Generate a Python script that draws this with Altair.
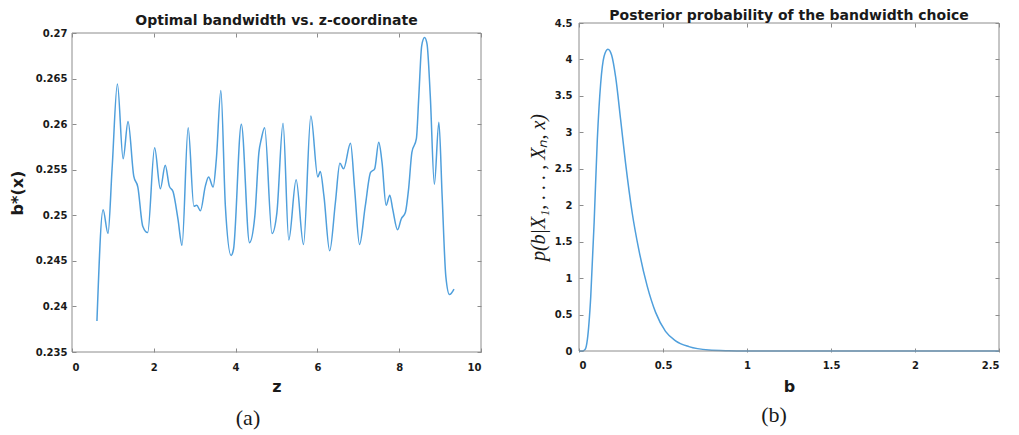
import altair as alt
import pandas as pd

# ---- data ----
z_coord = [0.61, 0.76, 0.88, 0.98, 1.11, 1.25, 1.37, 1.51, 1.61, 1.73, 1.85, 2.02, 2.16, 2.28,
           2.38, 2.47, 2.59, 2.69, 2.84, 2.98, 3.05, 3.14, 3.26, 3.34, 3.45, 3.53, 3.64, 3.75,
           3.89, 3.95, 4.14, 4.34, 4.47, 4.57, 4.63, 4.71, 4.89, 5.01, 5.16, 5.30, 5.48, 5.66,
           5.84, 6.01, 6.07, 6.16, 6.30, 6.44, 6.55, 6.64, 6.81, 6.91, 7.03, 7.17, 7.30, 7.40,
           7.50, 7.58, 7.68, 7.77, 7.84, 7.96, 8.05, 8.15, 8.23, 8.31, 8.42, 8.48, 8.55, 8.62,
           8.68, 8.76, 8.86, 8.97, 9.05, 9.14, 9.23, 9.34]
b_opt = [0.2384, 0.2506, 0.2480, 0.2551, 0.2644, 0.2562, 0.2603, 0.2543, 0.2531, 0.2488, 0.2481,
         0.2574, 0.2529, 0.2555, 0.2532, 0.2526, 0.2496, 0.2467, 0.2596, 0.2510, 0.2511, 0.2505,
         0.2532, 0.2542, 0.2531, 0.2562, 0.2637, 0.2510, 0.2456, 0.2463, 0.2600, 0.2470, 0.2499,
         0.2569, 0.2584, 0.2596, 0.2480, 0.2503, 0.2601, 0.2473, 0.2539, 0.2468, 0.2609, 0.2542,
         0.2548, 0.2521, 0.2461, 0.2514, 0.2557, 0.2551, 0.2579, 0.2529, 0.2468, 0.2510, 0.2547,
         0.2551, 0.2580, 0.2558, 0.2511, 0.2522, 0.2507, 0.2484, 0.2496, 0.2503, 0.2529, 0.2569,
         0.2584, 0.2631, 0.2686, 0.2695, 0.2688, 0.2631, 0.2534, 0.2602, 0.2521, 0.2433, 0.2413,
         0.2419]

bw = [0.0, 0.02, 0.036, 0.05, 0.07, 0.09, 0.109, 0.129, 0.149, 0.172, 0.194, 0.218, 0.248,
      0.277, 0.317, 0.356, 0.406, 0.456, 0.515, 0.575, 0.654, 0.772, 0.89, 1.0, 1.2, 1.5, 2.0, 2.5]
posterior = [0.0, 0.0, 0.02, 0.16, 0.75, 1.76, 2.90, 3.67, 4.04, 4.14, 4.06, 3.76, 3.17,
             2.58, 1.89, 1.39, 0.89, 0.53, 0.27, 0.14, 0.06, 0.014, 0.004, 0.001, 0.0, 0.0, 0.0, 0.0]

left_xdomain = [0, 10]
left_ydomain = [0.235, 0.27]
right_xdomain = [0, 2.5]
right_ydomain = [0, 4.5]
left_xticks = [0, 2, 4, 6, 8, 10]
left_yticks = [0.235, 0.24, 0.245, 0.25, 0.255, 0.26, 0.265, 0.27]
right_xticks = [0, 0.5, 1, 1.5, 2, 2.5]
right_yticks = [0, 0.5, 1, 1.5, 2, 2.5, 3, 3.5, 4, 4.5]

title_left = "Optimal bandwidth vs. z-coordinate"
title_right = "Posterior probability of the bandwidth choice"
xlabel_left = "z"
ylabel_left = "b*(x)"
xlabel_right = "b"
ylabel_right = "p(b|X\u2081, . . . , X\u2099, x)"
caption_left = ["(a)"]
caption_right = ["(b)"]

LINE = "#4f9fdc"
FRAME = "#8c8c8c"
TXT = "#1a1a1a"
SANS = "DejaVu Sans"
SERIF = "Liberation Serif"

H = 329          # common view height (frames top-aligned by the concat)
LEFT_TOP = 10    # left frame starts this far below the common top
W_L, W_R = 409, 420


def ax(orient, values, show_labels=True, offset=-4, **kw):
    return alt.Axis(orient=orient, values=values, labels=show_labels, domain=False,
                    ticks=True, tickSize=4, offset=offset, tickColor=FRAME, tickWidth=1,
                    grid=False, labelFont=SANS, labelFontSize=10, labelFontWeight="bold",
                    labelColor=TXT, format=".4~r", **kw)


def panel(xd, yd, xfield, yfield, xdom, ydom, xticks, yticks, yrange, xlab, ylab,
          xlab_pad, ylab_pad, ytitle_x, ytitle_style, cap, cap_x, cap_y, top_offset):
    df = pd.DataFrame({xfield: xd, yfield: yd})
    xs = alt.Scale(domain=xdom, nice=False, zero=False)
    ys = alt.Scale(domain=ydom, range=yrange, nice=False, zero=False)
    line = alt.Chart(df).mark_line(color=LINE, strokeWidth=1.5, interpolate="monotone").encode(
        x=alt.X(f"{xfield}:Q", scale=xs,
                axis=ax("bottom", xticks, title=xlab, labelPadding=xlab_pad, titleY=38,
                        titleBaseline="middle", titleFont=SANS, titleFontSize=16,
                        titleFontWeight="bold", titleColor=TXT)),
        y=alt.Y(f"{yfield}:Q", scale=ys,
                axis=ax("left", yticks, title=ylab, labelPadding=ylab_pad, titleX=ytitle_x,
                        titleBaseline="middle", titleColor=TXT, **ytitle_style)),
    )
    fdf = pd.DataFrame({"x0": [xdom[0]], "x1": [xdom[1]], "y0": [ydom[0]], "y1": [ydom[1]]})
    frame = alt.Chart(fdf).mark_rect(fill="white", fillOpacity=0, stroke=FRAME,
                                     strokeWidth=1, strokeOpacity=1).encode(
        x=alt.X("x0:Q", scale=xs, axis=ax("top", xticks, False, offset=-4 - top_offset,
                                           title=None)),
        x2="x1:Q",
        y=alt.Y("y0:Q", scale=ys, axis=ax("right", yticks, False, title=None)),
        y2="y1:Q",
    )
    capc = alt.Chart(pd.DataFrame({"t": cap})).mark_text(
        font=SERIF, fontSize=22, color=TXT, baseline="middle", align="center"
    ).encode(text="t:N", x=alt.value(cap_x), y=alt.value(cap_y))
    return alt.layer(line, frame, capc).resolve_axis(x="independent", y="independent")


left = panel(
    z_coord, b_opt, "z", "b", left_xdomain, left_ydomain, left_xticks, left_yticks,
    [H, LEFT_TOP], xlabel_left, ylabel_left, 10, 5, -59,
    dict(titleFont=SANS, titleFontSize=16, titleFontWeight="bold"),
    caption_left, 176, 395, LEFT_TOP,
).properties(
    width=W_L, height=H,
    title=alt.TitleParams(text=title_left, font=SANS, fontSize=14, fontWeight="bold",
                          color=TXT, offset=-5, anchor="middle"),
)
right = panel(
    bw, posterior, "bw", "p", right_xdomain, right_ydomain, right_xticks, right_yticks,
    [H - 1, 0], xlabel_right, ylabel_right, 8, 7, -45,
    dict(titleFont=SERIF, titleFontSize=20, titleFontStyle="italic", titleFontWeight="normal"),
    caption_right, 195, 392, 0,
).properties(
    width=W_R, height=H,
    title=alt.TitleParams(text=title_right, font=SANS, fontSize=14, fontWeight="bold",
                          color=TXT, offset=-5, anchor="middle"),
)

chart = alt.hconcat(left, right, spacing=45).properties(padding=0, background="white").configure_view(
    stroke="transparent"
)

chart.save("out.html", embed_options={"renderer": "svg", "actions": False})
